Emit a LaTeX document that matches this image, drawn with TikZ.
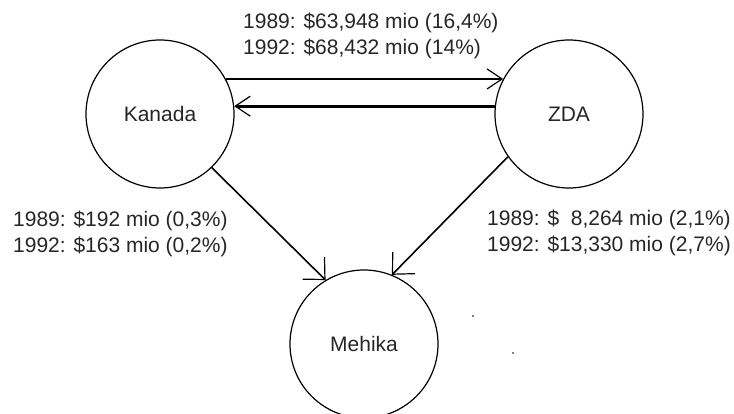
\documentclass[tikz,border=0pt]{standalone}
\usepackage{fontspec}
\setmainfont{Liberation Sans}
\usetikzlibrary{arrows.meta}

\begin{document}
\begin{tikzpicture}[x=1pt, y=-1pt,
        country/.style={draw, circle, line width=1.2pt, minimum size=148pt,
            inner sep=0pt, font=\fontsize{21}{26}\selectfont, text=black!85},
        flow/.style={line width=2.6pt,
            -{Straight Barb[length=15pt, width=20pt, line width=1.2pt]}},
        downflow/.style={line width=1.6pt,
            -{Straight Barb[length=16pt, width=31pt, line width=1.2pt]}},
        figures/.style={align=left, inner sep=0pt,
            font=\fontsize{21}{26.5}\selectfont, text=black!85}]

        \useasboundingbox (0,0) rectangle (734,414);

        \node[country] (kanada) at (160,114) {Kanada};
        \node[country] (zda)    at (569,114) {ZDA};
        \node[country] (mehika) at (364,344) {Mehika};

        % trade between the two big ones
        \draw[flow]
            (kanada.28) -- (zda.152);
        \draw[flow]
            (zda.174) -- (kanada.6);

        % both to Mehika
        \draw[downflow]
            (kanada.-46) -- (mehika.121);
        \draw[downflow]
            (zda.215) -- (mehika.68);

        % base anchor sits on the last line
        \node[figures, anchor=base west] (toplabel) at (243,55)
            {1989: \$63,948 mio (16,4\%)\\1992: \$68,432 mio (14\%)};
        \node[figures, anchor=base west] (leftlabel) at (13,253)
            {1989: \$192 mio (0,3\%)\\1992: \$163 mio (0,2\%)};
        \node[figures, anchor=base west] (rightlabel) at (487,252)
            {1989: \$\ \ 8,264 mio (2,1\%)\\1992: \$13,330 mio (2,7\%)};

        \fill
            (473,316) circle[radius=0.9pt]
            (513,353) circle[radius=0.9pt];

\end{tikzpicture}
\end{document}
